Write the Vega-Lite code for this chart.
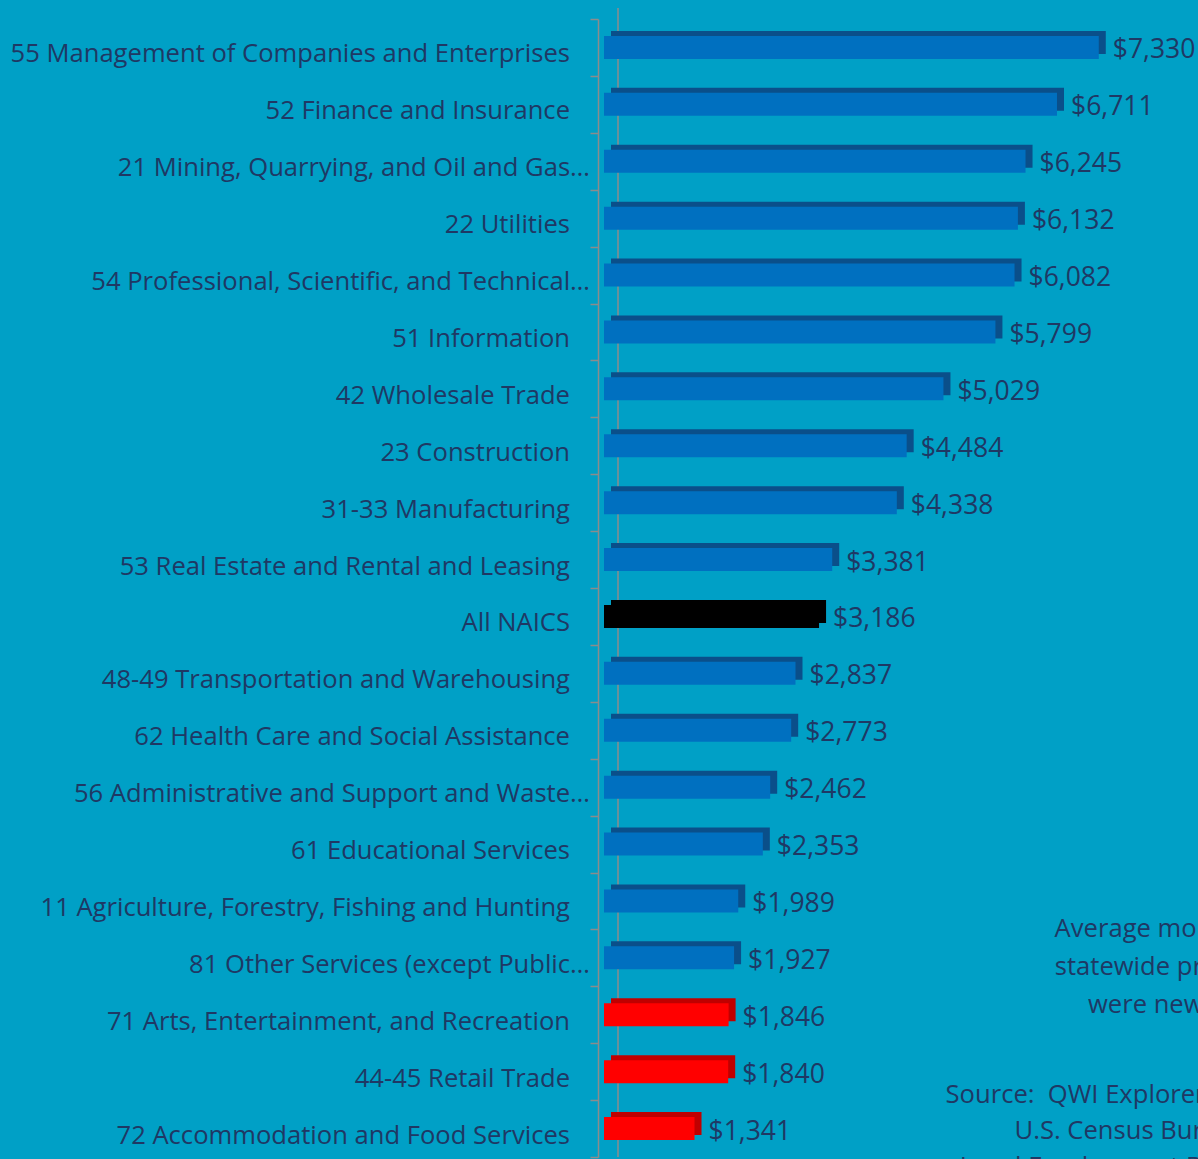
{
  "$schema": "https://vega.github.io/schema/vega-lite/v6.json",
  "width": 540,
  "height": 1138,
  "autosize": {"type": "none"},
  "padding": {"left": 604, "top": 19, "right": 54, "bottom": 2},
  "background": "#00A0C6",
  "config": {"view": {"stroke": null}, "font": "Open Sans"},
  "datasets": {
    "industries": [
      {"industry": "55 Management of Companies and Enterprises", "earnings": 7330, "group": "Industry"},
      {"industry": "52 Finance and Insurance", "earnings": 6711, "group": "Industry"},
      {"industry": "21 Mining, Quarrying, and Oil and Gas…", "earnings": 6245, "group": "Industry"},
      {"industry": "22 Utilities", "earnings": 6132, "group": "Industry"},
      {"industry": "54 Professional, Scientific, and Technical…", "earnings": 6082, "group": "Industry"},
      {"industry": "51 Information", "earnings": 5799, "group": "Industry"},
      {"industry": "42 Wholesale Trade", "earnings": 5029, "group": "Industry"},
      {"industry": "23 Construction", "earnings": 4484, "group": "Industry"},
      {"industry": "31-33 Manufacturing", "earnings": 4338, "group": "Industry"},
      {"industry": "53 Real Estate and Rental and Leasing", "earnings": 3381, "group": "Industry"},
      {"industry": "All NAICS", "earnings": 3186, "group": "All industries"},
      {"industry": "48-49 Transportation and Warehousing", "earnings": 2837, "group": "Industry"},
      {"industry": "62 Health Care and Social Assistance", "earnings": 2773, "group": "Industry"},
      {"industry": "56 Administrative and Support and Waste…", "earnings": 2462, "group": "Industry"},
      {"industry": "61 Educational Services", "earnings": 2353, "group": "Industry"},
      {"industry": "11 Agriculture, Forestry, Fishing and Hunting", "earnings": 1989, "group": "Industry"},
      {"industry": "81 Other Services (except Public…", "earnings": 1927, "group": "Industry"},
      {"industry": "71 Arts, Entertainment, and Recreation", "earnings": 1846, "group": "Lowest"},
      {"industry": "44-45 Retail Trade", "earnings": 1840, "group": "Lowest"},
      {"industry": "72 Accommodation and Food Services", "earnings": 1341, "group": "Lowest"}
    ],
    "notes": [
      {"lines": ["Average monthly earnings of", "statewide private sector jobs", "were new hires in 2016"], "anchor": "81 Other Services (except Public…", "pos": 9210}
    ],
    "sources": [
      {"lines": ["Source: \u00a0QWI Explorer from the", "U.S. Census Bureau", "Local Employment Dynamics"], "anchor": "72 Accommodation and Food Services", "pos": 7806}
    ]
  },
  "resolve": {"scale": {"color": "independent"}},
  "layer": [
    {
      "data": {"values": [{}]},
      "mark": {"type": "rule", "color": "#8C8C8C", "strokeWidth": 1.5, "xOffset": 14, "yOffset": -11, "y2Offset": -11},
      "encoding": {"x": {"datum": 0, "type": "quantitative", "scale": {"domain": [0, 8000], "nice": false}, "axis": null}}
    },
    {
      "data": {"name": "industries"},
      "mark": {"type": "bar", "size": 23, "xOffset": 7, "x2Offset": 7, "yOffset": -5, "y2Offset": -5},
      "encoding": {
        "y": {
          "field": "industry", "type": "nominal", "sort": null,
          "scale": {"paddingInner": 0, "paddingOuter": 0},
          "axis": {
            "title": null, "offset": 6, "labels": false,
            "domainColor": "#8C8C8C", "domainWidth": 1.5,
            "tickColor": "#8C8C8C", "tickWidth": 1.5, "tickSize": 8,
            "tickBand": "extent", "tickOffset": 5
          }
        },
        "x": {"field": "earnings", "type": "quantitative", "scale": {"domain": [0, 8000], "nice": false}, "axis": null},
        "color": {"field": "group", "type": "nominal", "scale": {"domain": ["Industry", "All industries", "Lowest"], "range": ["#0A4F8A", "#000000", "#C00000"]}, "legend": null}
      }
    },
    {
      "data": {"name": "industries"},
      "mark": {"type": "bar", "size": 23},
      "encoding": {
        "y": {"field": "industry", "type": "nominal", "sort": null},
        "x": {"field": "earnings", "type": "quantitative"},
        "color": {"field": "group", "type": "nominal", "scale": {"domain": ["Industry", "All industries", "Lowest"], "range": ["#0070C0", "#000000", "#FF0000"]}, "legend": null}
      }
    },
    {
      "data": {"name": "industries"},
      "transform": [{"filter": "indexof(datum.industry, '…') < 0"}],
      "mark": {"type": "text", "align": "right", "baseline": "middle", "dx": -34, "dy": 7, "fontSize": 25.6, "color": "#1F3864", "font": "Open Sans"},
      "encoding": {
        "y": {"field": "industry", "type": "nominal", "sort": null},
        "x": {"datum": 0, "type": "quantitative"},
        "text": {"field": "industry"}
      }
    },
    {
      "data": {"name": "industries"},
      "transform": [{"filter": "indexof(datum.industry, '…') >= 0"}],
      "mark": {"type": "text", "align": "right", "baseline": "middle", "dx": -14, "dy": 7, "fontSize": 25.6, "color": "#1F3864", "font": "Open Sans"},
      "encoding": {
        "y": {"field": "industry", "type": "nominal", "sort": null},
        "x": {"datum": 0, "type": "quantitative"},
        "text": {"field": "industry"}
      }
    },
    {
      "data": {"name": "industries"},
      "mark": {"type": "text", "align": "left", "baseline": "middle", "dx": 14, "dy": 3, "fontSize": 26.5, "color": "#1F3864", "font": "Open Sans"},
      "encoding": {
        "y": {"field": "industry", "type": "nominal", "sort": null},
        "x": {"field": "earnings", "type": "quantitative"},
        "text": {"field": "earnings", "type": "quantitative", "format": "$,.0f"}
      }
    },
    {
      "data": {"name": "notes"},
      "mark": {"type": "text", "align": "center", "baseline": "middle", "dy": -29, "fontSize": 25.6, "lineHeight": 38, "color": "#1F3864", "font": "Open Sans"},
      "encoding": {
        "y": {"field": "anchor", "type": "nominal", "sort": null},
        "x": {"field": "pos", "type": "quantitative"},
        "text": {"field": "lines"}
      }
    },
    {
      "data": {"name": "sources"},
      "mark": {"type": "text", "align": "center", "baseline": "middle", "dy": -34, "fontSize": 25.6, "lineHeight": 36, "color": "#1F3864", "font": "Open Sans"},
      "encoding": {
        "y": {"field": "anchor", "type": "nominal", "sort": null},
        "x": {"field": "pos", "type": "quantitative"},
        "text": {"field": "lines"}
      }
    }
  ]
}
